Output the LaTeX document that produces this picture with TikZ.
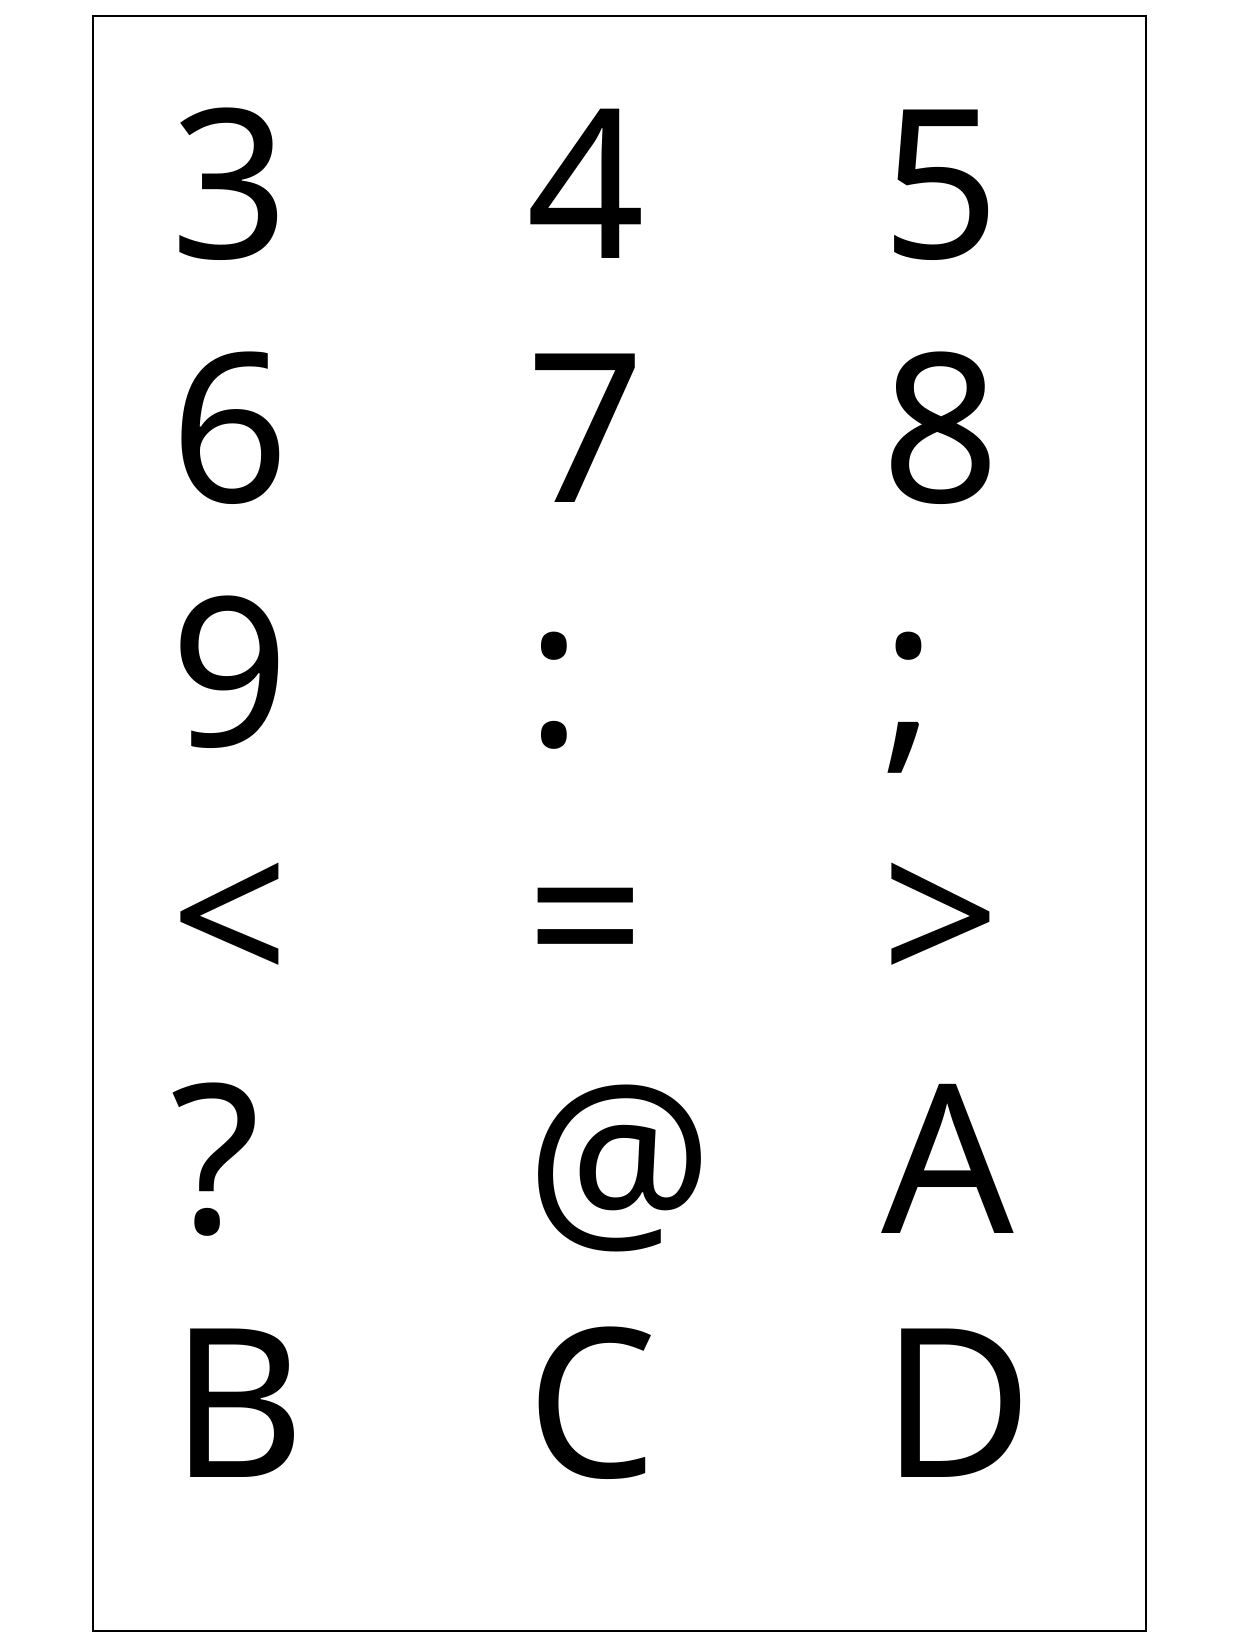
\documentclass[tikz,border=0pt]{standalone}
\usepackage{fontspec}
\setmainfont{Noto Sans}
\begin{document}
\begin{tikzpicture}[x=0.5pt,y=-0.5pt,
  glyph/.style={anchor=base west,inner sep=0pt,outer sep=0pt,font=\fontsize{104pt}{104pt}\selectfont}]
\useasboundingbox (0,0) rectangle (1236,1646);
\node[draw=black,line width=1pt,inner sep=0pt,minimum width=526.5pt,minimum height=807.5pt,anchor=north west] (frame) at (92,15) {};
\node[glyph] (g3) at (170,258) {3};
\node[glyph] (g4) at (526,258) {4};
\node[glyph] (g5) at (881,258) {5};
\node[glyph] (g6) at (170,502) {6};
\node[glyph] (g7) at (526,502) {7};
\node[glyph] (g8) at (881,502) {8};
\node[glyph] (g9) at (170,746) {9};
\node[glyph] (gcolon) at (526,746) {:};
\node[glyph] (gsemi) at (881,746) {;};
\node[glyph] (glt) at (170,989) {<};
\node[glyph] (geq) at (526,989) {=};
\node[glyph] (ggt) at (881,989) {>};
\node[glyph] (gq) at (170,1233) {?};
\node[glyph] (gat) at (526,1233) {@};
\node[glyph] (gA) at (881,1233) {A};
\node[glyph] (gB) at (170,1477) {B};
\node[glyph] (gC) at (526,1477) {C};
\node[glyph] (gD) at (881,1477) {D};
\end{tikzpicture}
\end{document}
